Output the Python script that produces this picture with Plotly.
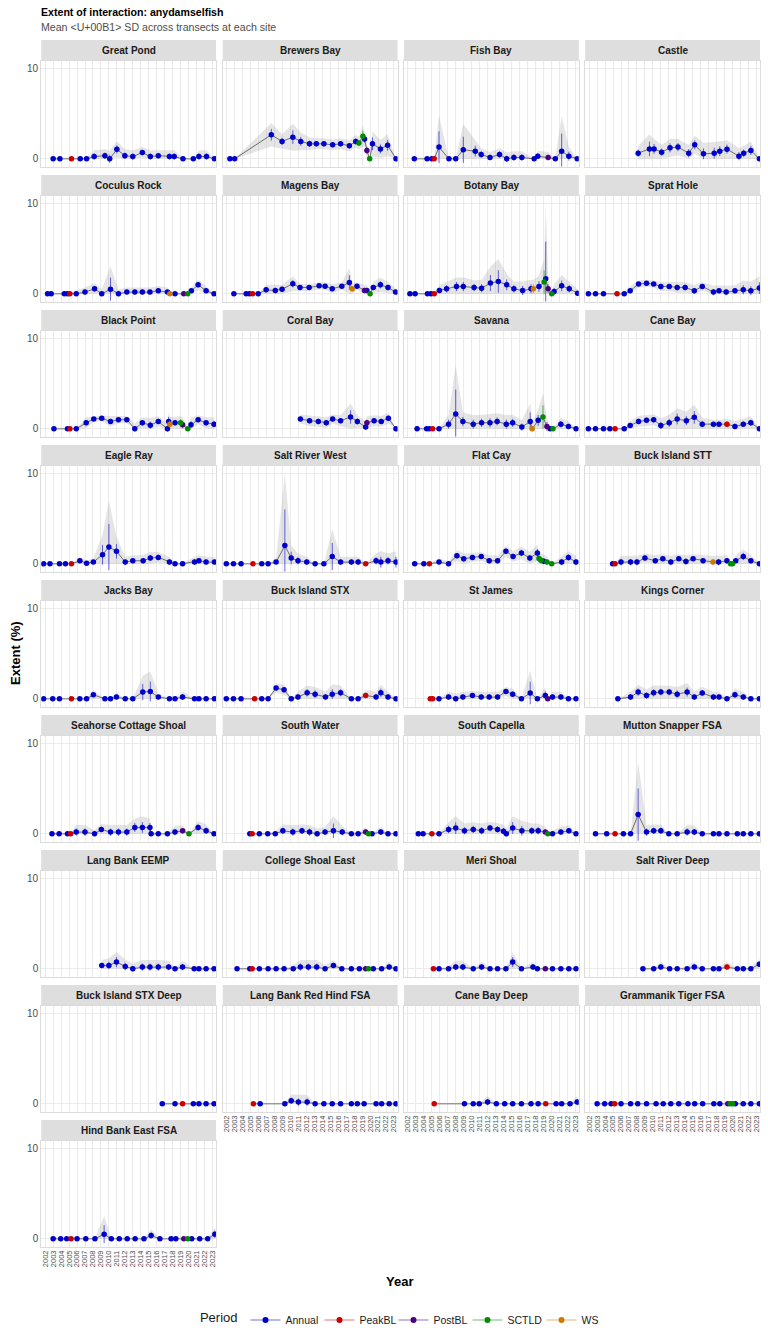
import plotly.graph_objects as go

# period codes: A=Annual, P=PeakBL, Q=PostBL, S=SCTLD, W=WS
# each site: survey date (decimal year), mean extent (%), SD across transects, period

gp_yr = [2003.0, 2003.85, 2005.3, 2006.4, 2007.2, 2008.15, 2009.5, 2010.1, 2011.0, 2012.0, 2013.0, 2014.2, 2015.2, 2016.2, 2017.6, 2018.2, 2019.3, 2020.6, 2021.3, 2022.25, 2023.25]
gp_mu = [0, 0, 0, 0, 0, 0.25, 0.35, 0, 1.05, 0.35, 0.25, 0.7, 0.25, 0.35, 0.25, 0.25, 0, 0, 0.25, 0.25, 0]
gp_sd = [0, 0, 0, 0, 0, 0.35, 0.35, 0.45, 0.45, 0.35, 0.35, 0.3, 0.35, 0.3, 0.35, 0.35, 0, 0, 0.35, 0.35, 0]
gp_pd = "AAPAAAAAAAAAAAAAAAAAA"

bb_yr = [2002.4, 2003.0, 2007.6, 2008.95, 2010.3, 2011.3, 2012.4, 2013.25, 2014.2, 2015.3, 2016.3, 2017.4, 2018.2, 2018.6, 2019.1, 2019.3, 2019.6, 2019.95, 2020.3, 2021.3, 2022.2, 2023.25]
bb_mu = [0, 0, 2.67, 1.93, 2.4, 1.93, 1.67, 1.67, 1.67, 1.55, 1.67, 1.45, 1.93, 1.75, 2.5, 2.2, 0.93, 0, 1.67, 1.1, 1.5, 0]
bb_sd = [0, 0, 0.65, 0.4, 0.75, 0.5, 0.35, 0.3, 0.3, 0.3, 0.3, 0.3, 0.35, 0.35, 0.6, 0.4, 0.4, 0, 0.7, 0.5, 0.6, 0]
bb_pd = "AAAAAAAAAAAAASSAQSAAAA"

fb_yr = [2002.8, 2004.4, 2005.0, 2005.3, 2005.9, 2007.15, 2008.0, 2008.95, 2010.45, 2011.2, 2012.3, 2013.5, 2014.4, 2015.3, 2016.3, 2017.85, 2018.3, 2019.6, 2020.5, 2021.3, 2022.2, 2023.25]
fb_mu = [0, 0, 0, 0, 1.3, 0, 0, 1.0, 0.85, 0.48, 0.15, 0.48, 0, 0.15, 0.15, 0, 0.3, 0.15, 0, 0.85, 0.3, 0]
fb_sd = [0, 0, 0, 0, 1.75, 0, 0, 1.45, 0.6, 0.35, 0.3, 0.35, 0.35, 0.35, 0.35, 0, 0.3, 0.3, 0, 1.95, 0.5, 0]
fb_pd = "AAAPAAAAAAAAAAAAAQAAAA"

ca_yr = [2008.15, 2009.57, 2010.15, 2011.1, 2012.15, 2013.15, 2014.5, 2015.25, 2016.35, 2017.7, 2018.4, 2019.3, 2020.8, 2021.4, 2022.3, 2023.37]
ca_mu = [0.63, 1.1, 1.1, 0.74, 1.22, 1.3, 0.63, 1.55, 0.55, 0.63, 0.85, 1.07, 0.3, 0.63, 0.93, 0]
ca_sd = [0.4, 0.8, 0.55, 0.4, 0.5, 0.45, 0.45, 0.5, 0.6, 0.6, 0.55, 0.5, 0.45, 0.4, 0.5, 0]
ca_pd = "AAAAAAAAAAAAAAAA"

cr_yr = [2002.3, 2002.75, 2004.4, 2004.8, 2005.1, 2005.9, 2007.0, 2008.2, 2009.1, 2010.2, 2011.2, 2012.25, 2013.25, 2014.2, 2015.15, 2016.2, 2017.35, 2017.65, 2018.3, 2019.4, 2019.9, 2020.35, 2021.2, 2022.2, 2023.2]
cr_mu = [0, 0, 0, 0, 0, 0, 0.19, 0.56, 0, 0.52, 0, 0.19, 0.19, 0.19, 0.19, 0.34, 0.19, 0, 0, 0, 0, 0.34, 1.0, 0.34, 0]
cr_sd = [0, 0, 0, 0, 0, 0.2, 0.25, 0.32, 0.25, 1.27, 0.26, 0.26, 0.26, 0.26, 0.26, 0.26, 0.26, 0, 0, 0, 0, 0.2, 0.3, 0.25, 0]
cr_pd = "AAAAPAAAAAAAAAAAAWAQSAAAA"

mb_yr = [2002.9, 2004.45, 2004.85, 2005.25, 2005.95, 2006.95, 2008.1, 2008.95, 2010.3, 2011.2, 2012.35, 2013.6, 2014.35, 2015.25, 2016.45, 2017.4, 2017.75, 2018.35, 2019.3, 2019.6, 2020.0, 2020.4, 2021.3, 2022.25, 2023.2]
mb_mu = [0, 0, 0, 0, 0, 0.44, 0.37, 0.52, 1.11, 0.7, 0.7, 0.89, 0.85, 0.56, 0.85, 1.26, 0.56, 0.85, 0.37, 0.37, 0, 0.7, 1.0, 0.7, 0.19]
mb_sd = [0, 0, 0, 0, 0, 0.28, 0.3, 0.25, 0.4, 0.2, 0.2, 0.2, 0.2, 0.25, 0.2, 0.8, 0.3, 0.2, 0.3, 0.3, 0, 0.3, 0.4, 0.3, 0.2]
mb_pd = "AAAPAAAAAAAAAAAAWAQASAAAA"

bt_yr = [2002.25, 2002.9, 2004.45, 2004.9, 2005.3, 2005.95, 2006.85, 2008.1, 2008.95, 2010.3, 2011.25, 2012.35, 2013.35, 2014.4, 2015.3, 2016.4, 2017.45, 2017.75, 2018.45, 2019.1, 2019.3, 2019.6, 2020.05, 2020.35, 2021.3, 2022.25, 2023.3]
bt_mu = [0, 0, 0, 0, 0, 0.37, 0.56, 0.81, 0.81, 0.7, 0.63, 1.19, 1.37, 1.0, 0.56, 0.37, 0.56, 0.56, 0.81, 1.3, 1.67, 0.56, 0, 0.26, 0.89, 0.56, 0.07]
bt_sd = [0, 0, 0, 0, 0, 0.3, 0.4, 0.5, 0.5, 0.4, 0.45, 0.9, 1.25, 0.6, 0.4, 0.5, 0.5, 0.5, 0.6, 1.3, 4.1, 0.5, 0, 0.4, 0.6, 0.4, 0.2]
bt_pd = "AAAAPAAAAAAAAAAAAWASAQSAAAA"

sh_yr = [2001.9, 2002.8, 2003.8, 2005.5, 2006.4, 2007.15, 2008.2, 2009.2, 2010.1, 2011.0, 2012.05, 2013.05, 2014.05, 2015.2, 2016.2, 2017.6, 2018.3, 2019.2, 2020.3, 2021.35, 2022.3, 2023.37]
sh_mu = [0, 0, 0, 0, 0, 0.34, 1.09, 1.16, 1.09, 0.82, 0.82, 0.71, 0.71, 0.34, 0.82, 0.19, 0.34, 0.19, 0.34, 0.45, 0.34, 0.64]
sh_sd = [0, 0, 0, 0, 0, 0.25, 0.2, 0.2, 0.2, 0.25, 0.25, 0.3, 0.3, 0.3, 0.25, 0.35, 0.3, 0.35, 0.3, 0.5, 0.5, 0.65]
sh_pd = "AAAPAAAAAAAAAAAAAAAAAA"

bp_yr = [2003.1, 2004.8, 2005.1, 2005.9, 2007.15, 2008.1, 2009.1, 2010.2, 2011.2, 2012.25, 2013.25, 2014.2, 2015.2, 2016.2, 2017.35, 2017.5, 2017.65, 2018.3, 2019.0, 2019.25, 2019.9, 2020.3, 2021.2, 2022.2, 2023.2]
bp_mu = [0, 0, 0, 0, 0.67, 1.09, 1.16, 0.82, 1.01, 1.01, 0, 0.67, 0.41, 0.82, 0, 0.82, 0.52, 0.67, 0.67, 0.45, 0, 0.45, 1.01, 0.67, 0.52]
bp_sd = [0, 0, 0, 0, 0.3, 0.15, 0.15, 0.3, 0.2, 0.2, 0.3, 0.3, 0.4, 0.3, 0.3, 0.5, 0.4, 0.3, 0.4, 0.4, 0, 0.4, 0.25, 0.3, 0.35]
bp_pd = "AAPAAAAAAAAAAAAAWASQSAAAA"

cb_yr = [2011.25, 2012.4, 2013.5, 2014.5, 2015.3, 2016.3, 2017.55, 2018.4, 2019.45, 2019.6, 2020.5, 2021.4, 2022.3, 2023.25]
cb_mu = [1.09, 0.9, 0.82, 0.67, 1.09, 0.9, 1.31, 0.82, 0.19, 0.67, 0.9, 0.82, 1.16, 0]
cb_sd = [0.25, 0.3, 0.3, 0.3, 0.25, 0.3, 0.75, 0.35, 0.3, 0.35, 0.3, 0.3, 0.3, 0]
cb_pd = "AAAAAAAAAQAAAA"

sv_yr = [2003.15, 2004.35, 2004.7, 2005.1, 2005.9, 2007.1, 2008.0, 2008.9, 2010.2, 2011.25, 2012.3, 2013.2, 2014.35, 2015.15, 2016.3, 2017.35, 2017.6, 2018.35, 2018.95, 2019.45, 2019.85, 2020.2, 2021.2, 2022.15, 2023.1]
sv_mu = [0, 0, 0, 0, 0, 0.52, 1.65, 0.82, 0.52, 0.67, 0.67, 0.82, 0.52, 0.67, 0.19, 0.82, 0, 0.94, 1.31, 0.26, 0, 0, 0.52, 0.26, 0]
sv_sd = [0, 0, 0, 0, 0, 0.5, 2.7, 0.5, 0.5, 0.45, 0.5, 0.45, 0.5, 0.45, 0.4, 1.0, 0.3, 0.6, 1.3, 0.5, 0, 0, 0.35, 0.3, 0]
sv_pd = "AAAPAAAAAAAAAAAAWASQASAAA"

cn_yr = [2001.9, 2002.8, 2003.8, 2004.6, 2005.25, 2006.4, 2007.15, 2008.2, 2009.2, 2010.1, 2011.0, 2012.05, 2013.05, 2014.2, 2015.2, 2016.2, 2017.6, 2018.3, 2019.3, 2020.3, 2021.35, 2022.3, 2023.37]
cn_mu = [0, 0, 0, 0, 0, 0, 0.37, 0.82, 0.94, 1.01, 0.37, 0.67, 1.09, 0.9, 1.27, 0.52, 0.52, 0.52, 0.52, 0.26, 0.52, 0.67, 0]
cn_sd = [0, 0, 0, 0, 0, 0, 0.25, 0.3, 0.3, 0.3, 0.4, 0.45, 0.6, 0.5, 0.7, 0.35, 0.25, 0.25, 0.3, 0.3, 0.3, 0.35, 0]
cn_pd = "AAAAPAAAAAAAAAAAAAPAAAA"

er_yr = [2001.8, 2002.6, 2003.8, 2004.55, 2005.3, 2006.35, 2007.2, 2008.05, 2009.2, 2010.0, 2010.95, 2012.05, 2013.0, 2014.3, 2015.2, 2016.2, 2017.6, 2018.3, 2019.25, 2020.75, 2021.3, 2022.2, 2023.25]
er_mu = [0, 0, 0, 0, 0, 0.34, 0.07, 0.19, 1.01, 1.87, 1.39, 0.19, 0.34, 0.34, 0.64, 0.71, 0.19, 0, 0, 0.19, 0.34, 0.19, 0.19]
er_sd = [0, 0, 0, 0, 0, 0.2, 0.15, 0.2, 1.1, 2.55, 0.8, 0.3, 0.3, 0.3, 0.35, 0.3, 0.3, 0, 0, 0.3, 0.3, 0.3, 0.3]
er_pd = "AAAAPAAAAAAAAAAAAAAAAAA"

sw_yr = [2001.95, 2002.85, 2003.8, 2005.3, 2006.4, 2007.2, 2008.2, 2009.3, 2010.1, 2010.95, 2012.05, 2013.1, 2014.2, 2015.25, 2016.3, 2017.65, 2018.5, 2019.45, 2020.75, 2021.35, 2022.25, 2023.25]
sw_mu = [0, 0, 0, 0, 0, 0, 0.19, 2.02, 0.64, 0.34, 0.19, 0, 0, 0.82, 0.19, 0.19, 0.19, 0, 0.34, 0.19, 0.34, 0.19]
sw_sd = [0, 0, 0, 0, 0, 0, 0.2, 4.0, 0.7, 0.4, 0.3, 0, 0, 1.5, 0.3, 0.3, 0.3, 0, 0.4, 0.6, 0.4, 0.6]
sw_pd = "AAAPAAAAAAAAAAAAAPAAAA"

fc_yr = [2002.85, 2004.0, 2004.7, 2005.9, 2007.1, 2008.15, 2009.0, 2010.1, 2011.2, 2012.2, 2013.25, 2014.3, 2015.2, 2016.25, 2017.3, 2018.25, 2018.45, 2018.7, 2019.05, 2019.45, 2020.05, 2021.3, 2022.15, 2023.1]
fc_mu = [0, 0, 0, 0.19, 0, 0.9, 0.56, 0.71, 0.82, 0.34, 0.34, 1.39, 0.82, 1.2, 0.64, 1.2, 0.6, 0.4, 0.3, 0.2, 0, 0.19, 0.71, 0.19]
fc_sd = [0, 0, 0, 0.2, 0.15, 0.3, 0.3, 0.25, 0.25, 0.3, 0.3, 0.3, 0.3, 0.35, 0.35, 0.45, 0.4, 0.4, 0.35, 0.3, 0, 0.35, 0.35, 0.35]
fc_pd = "AAPAAAAAAAAAAAAASSASSAAA"

bs_yr = [2004.95, 2005.25, 2006.0, 2007.2, 2008.0, 2009.0, 2010.3, 2011.25, 2012.25, 2013.25, 2014.15, 2015.05, 2016.3, 2017.55, 2018.25, 2019.3, 2019.75, 2020.0, 2020.4, 2021.35, 2022.3, 2023.37]
bs_mu = [0, 0, 0.19, 0.19, 0.19, 0.64, 0.34, 0.56, 0.19, 0.56, 0.26, 0.56, 0.34, 0.19, 0.19, 0.34, 0, 0, 0.34, 0.82, 0.34, 0]
bs_sd = [0, 0, 0.35, 0.35, 0.35, 0.25, 0.3, 0.25, 0.35, 0.25, 0.35, 0.25, 0.3, 0.35, 0.35, 0.3, 0, 0, 0.3, 0.4, 0.3, 0]
bs_pd = "APAAAAAAAAAAAWAASSAAAA"

jb_yr = [2001.8, 2002.95, 2003.8, 2005.3, 2006.35, 2007.2, 2008.05, 2009.5, 2010.2, 2010.95, 2012.05, 2013.0, 2014.25, 2015.2, 2016.2, 2017.6, 2018.3, 2019.25, 2020.75, 2021.3, 2022.2, 2023.25]
jb_mu = [0, 0, 0, 0, 0, 0, 0.45, 0, 0, 0.19, 0, 0, 0.75, 0.82, 0.19, 0, 0, 0.19, 0, 0, 0, 0]
jb_sd = [0, 0, 0, 0, 0, 0, 0.25, 0, 0, 0.25, 0, 0, 0.9, 1.1, 0.2, 0, 0, 0.3, 0, 0, 0, 0]
jb_pd = "AAAPAAAAAAAAAAAAAAAAAA"

bx_yr = [2001.95, 2002.85, 2003.8, 2005.5, 2006.4, 2007.2, 2008.2, 2009.2, 2010.1, 2010.95, 2012.1, 2013.1, 2014.4, 2015.25, 2016.3, 2017.65, 2018.5, 2019.45, 2020.75, 2021.35, 2022.25, 2023.25]
bx_mu = [0, 0, 0, 0, 0, 0, 1.2, 1.0, 0, 0.19, 0.67, 0.52, 0.19, 0.52, 0.67, 0, 0, 0.37, 0.19, 0.67, 0.19, 0]
bx_sd = [0, 0, 0, 0, 0, 0, 0.25, 0.3, 0, 0.3, 0.4, 0.4, 0.3, 0.55, 0.4, 0, 0, 0.3, 0.3, 0.45, 0.3, 0]
bx_pd = "AAAPAAAAAAAAAAAAAPAAAA"

sj_yr = [2004.8, 2005.1, 2005.9, 2007.1, 2008.0, 2008.9, 2010.1, 2011.2, 2012.2, 2013.25, 2014.3, 2015.15, 2016.25, 2017.35, 2018.25, 2019.25, 2019.55, 2020.15, 2021.2, 2022.15, 2023.1]
sj_mu = [0, 0, 0, 0.19, 0, 0.19, 0.37, 0.19, 0.19, 0.19, 0.82, 0.52, 0, 0.64, 0, 0.37, 0, 0.19, 0.19, 0, 0]
sj_sd = [0, 0, 0, 0.3, 0.3, 0.3, 0.25, 0.3, 0.3, 0.3, 0.25, 0.3, 0, 1.25, 0, 0.45, 0, 0.3, 0.3, 0, 0]
sj_pd = "PPAAAAAAAAAAAAAAQAAAA"

kc_yr = [2005.6, 2007.2, 2008.15, 2009.2, 2010.1, 2011.0, 2012.05, 2013.05, 2014.3, 2015.2, 2016.2, 2017.6, 2018.3, 2019.3, 2020.3, 2021.35, 2022.3, 2023.37]
kc_mu = [0, 0.19, 0.75, 0.37, 0.67, 0.75, 0.75, 0.52, 0.75, 0.19, 0.64, 0.19, 0.19, 0, 0.45, 0.19, 0, 0]
kc_sd = [0, 0.3, 0.4, 0.35, 0.4, 0.35, 0.35, 0.4, 0.5, 0.3, 0.35, 0.3, 0.3, 0, 0.35, 0.3, 0, 0]
kc_pd = "AAAAAAAAAAAAAAAAAA"

sc_yr = [2002.85, 2003.75, 2004.8, 2005.2, 2005.9, 2007.0, 2008.2, 2009.05, 2010.2, 2011.2, 2012.25, 2013.25, 2014.2, 2015.15, 2015.3, 2016.2, 2017.35, 2018.3, 2019.25, 2020.05, 2021.2, 2022.2, 2023.2]
sc_mu = [0, 0, 0, 0, 0.19, 0.19, 0, 0.49, 0.19, 0.19, 0.19, 0.71, 0.71, 0.71, 0, 0, 0, 0.19, 0.34, 0, 0.71, 0.34, 0]
sc_sd = [0, 0, 0, 0, 0.4, 0.4, 0.2, 0.3, 0.4, 0.4, 0.4, 0.5, 0.6, 0.5, 0, 0, 0, 0.35, 0.3, 0, 0.35, 0.35, 0]
sc_pd = "AAAPAAAAAAAAAAAAAAQSAAA"

wt_yr = [2004.9, 2005.2, 2006.1, 2007.15, 2008.1, 2009.05, 2010.3, 2011.45, 2012.4, 2013.35, 2014.35, 2015.4, 2016.5, 2017.65, 2018.5, 2019.45, 2019.8, 2020.25, 2021.35, 2022.25, 2023.25]
wt_mu = [0, 0, 0, 0, 0, 0.34, 0.19, 0.34, 0.19, 0, 0.19, 0.34, 0.19, 0, 0, 0.19, 0, 0, 0.19, 0, 0]
wt_sd = [0, 0, 0, 0, 0.15, 0.35, 0.4, 0.35, 0.4, 0.3, 0.3, 0.8, 0.35, 0, 0, 0.3, 0, 0, 0.3, 0, 0]
wt_pd = "APAAAAAAAAAAAAAQSAAAA"

sp_yr = [2003.3, 2003.9, 2005.0, 2005.9, 2007.1, 2008.0, 2009.1, 2010.2, 2011.25, 2012.3, 2013.25, 2014.0, 2014.35, 2015.15, 2016.3, 2017.55, 2018.35, 2019.25, 2019.55, 2020.15, 2021.2, 2022.2, 2023.1]
sp_mu = [0, 0, 0, 0, 0.49, 0.64, 0.34, 0.49, 0.34, 0.64, 0.49, 0.3, 0, 0.64, 0.34, 0.34, 0.34, 0.19, 0, 0, 0.19, 0.34, 0]
sp_sd = [0, 0, 0, 0, 0.4, 0.65, 0.4, 0.4, 0.4, 0.35, 0.35, 0.35, 0.3, 0.65, 0.55, 0.4, 0.4, 0.3, 0, 0.2, 0.3, 0.3, 0]
sp_pd = "AAPAAAAAAAAAAAAAAQSAAAA"

ms_yr = [2002.8, 2004.2, 2005.25, 2006.3, 2007.2, 2008.15, 2009.2, 2010.1, 2011.0, 2012.0, 2013.05, 2014.3, 2015.2, 2016.2, 2017.6, 2018.3, 2019.3, 2020.6, 2021.35, 2022.3, 2023.37]
ms_mu = [0, 0, 0, 0, 0, 2.13, 0.19, 0.34, 0.34, 0, 0, 0.19, 0.19, 0, 0, 0, 0, 0, 0, 0, 0]
ms_sd = [0, 0, 0, 0, 0, 2.9, 0.4, 0.35, 0.35, 0, 0, 0.4, 0.35, 0, 0, 0, 0, 0, 0, 0, 0]
ms_pd = "AAPAAAAAAAAAAAAAAAAAA"

le_yr = [2009.1, 2010.0, 2010.95, 2012.05, 2013.0, 2014.2, 2015.15, 2016.2, 2017.5, 2018.3, 2019.25, 2020.7, 2021.3, 2022.2, 2023.2]
le_mu = [0.37, 0.37, 0.75, 0.26, 0, 0.19, 0.19, 0.19, 0.19, 0, 0.19, 0, 0, 0, 0]
le_sd = [0.3, 0.4, 0.55, 0.4, 0.3, 0.4, 0.4, 0.4, 0.35, 0, 0.35, 0, 0, 0, 0]
le_pd = "AAAAAAAAAAAAAAA"

cs_yr = [2003.3, 2004.9, 2005.2, 2006.1, 2007.2, 2008.2, 2009.2, 2010.35, 2011.25, 2012.25, 2013.3, 2014.35, 2015.4, 2016.45, 2017.65, 2018.65, 2019.45, 2019.8, 2020.4, 2021.45, 2022.4, 2023.25]
cs_mu = [0, 0, 0, 0, 0, 0, 0, 0, 0.19, 0.19, 0.19, 0, 0.37, 0, 0, 0, 0, 0, 0, 0, 0.19, 0]
cs_sd = [0, 0, 0, 0, 0, 0, 0, 0.2, 0.4, 0.4, 0.4, 0.2, 0.3, 0, 0, 0, 0.2, 0, 0, 0, 0.3, 0]
cs_pd = "AAPAAAAAAAAAAAAAQSAAAA"

me_yr = [2005.2, 2005.9, 2007.1, 2008.0, 2008.9, 2010.2, 2011.25, 2012.3, 2013.25, 2014.3, 2015.15, 2016.25, 2017.7, 2018.25, 2019.25, 2020.15, 2021.2, 2022.2, 2023.1]
me_mu = [0, 0, 0, 0.19, 0.19, 0, 0.19, 0, 0, 0, 0.75, 0, 0.19, 0, 0, 0, 0, 0, 0]
me_sd = [0, 0, 0.15, 0.35, 0.35, 0, 0.3, 0, 0, 0, 0.55, 0, 0.3, 0, 0, 0, 0, 0, 0]
me_pd = "PAAAAAAAAAAAAAQAAAA"

rd_yr = [2008.75, 2010.1, 2011.0, 2012.1, 2013.05, 2014.3, 2015.2, 2016.2, 2017.6, 2018.3, 2019.3, 2020.6, 2021.35, 2022.3, 2023.37]
rd_mu = [0, 0, 0.19, 0, 0, 0, 0.19, 0, 0, 0, 0.19, 0, 0, 0, 0.52]
rd_sd = [0, 0, 0.3, 0, 0, 0.15, 0.3, 0, 0, 0.1, 0.3, 0, 0, 0.1, 0.3]
rd_pd = "AAAAAAAAAAPAAAA"

bd_yr = [2016.7, 2018.3, 2019.25, 2020.6, 2021.3, 2022.2, 2023.2]
bd_mu = [0, 0, 0, 0, 0, 0, 0]
bd_sd = [0, 0, 0, 0, 0, 0, 0]
bd_pd = "AAPAAAA"

lr_yr = [2005.35, 2006.2, 2009.3, 2010.1, 2011.0, 2012.1, 2013.1, 2014.2, 2015.25, 2016.3, 2017.65, 2018.4, 2019.25, 2020.75, 2021.45, 2022.4, 2023.25]
lr_mu = [0, 0, 0, 0.34, 0.19, 0.19, 0, 0, 0, 0, 0, 0, 0, 0, 0, 0, 0]
lr_sd = [0, 0, 0, 0.35, 0.4, 0.4, 0, 0, 0, 0, 0, 0, 0, 0, 0, 0, 0]
lr_pd = "PAAAAAAAAAAAAAAAA"

cd_yr = [2005.3, 2009.1, 2010.2, 2010.95, 2012.0, 2013.1, 2014.15, 2015.15, 2016.25, 2017.45, 2018.35, 2019.3, 2020.6, 2021.3, 2022.35, 2023.25]
cd_mu = [0, 0, 0, 0, 0.19, 0, 0, 0, 0, 0, 0, 0, 0, 0, 0, 0.19]
cd_sd = [0, 0, 0, 0, 0.35, 0, 0, 0, 0, 0, 0, 0, 0, 0, 0, 0.35]
cd_pd = "PAAAAAAAAAAPAAAA"

gt_yr = [2003.0, 2003.95, 2004.75, 2005.2, 2006.0, 2007.2, 2008.1, 2009.2, 2010.4, 2011.3, 2012.25, 2013.25, 2014.4, 2015.25, 2016.25, 2017.65, 2018.4, 2019.4, 2019.7, 2020.0, 2020.35, 2021.35, 2022.3, 2023.37]
gt_mu = [0] * 24
gt_sd = [0] * 24
gt_pd = "AAAPAAAAAAAAAAAAAQSSAAAA"

hb_yr = [2003.0, 2003.95, 2004.7, 2005.25, 2006.0, 2007.1, 2008.25, 2009.4, 2010.3, 2011.3, 2012.3, 2013.3, 2014.4, 2015.3, 2016.4, 2017.8, 2018.4, 2019.4, 2019.9, 2020.4, 2021.4, 2022.4, 2023.3]
hb_mu = [0, 0, 0, 0, 0, 0, 0, 0.52, 0, 0, 0, 0, 0, 0.37, 0, 0, 0, 0, 0, 0, 0, 0, 0.52]
hb_sd = [0, 0, 0, 0, 0, 0, 0, 1.0, 0, 0, 0, 0, 0, 0.35, 0, 0, 0, 0, 0, 0, 0, 0, 0.4]
hb_pd = "AAAPAAAAAAAAAAAAAQSAAAA"

SITES = [
    ("Great Pond", gp_yr, gp_mu, gp_sd, gp_pd),
    ("Brewers Bay", bb_yr, bb_mu, bb_sd, bb_pd),
    ("Fish Bay", fb_yr, fb_mu, fb_sd, fb_pd),
    ("Castle", ca_yr, ca_mu, ca_sd, ca_pd),
    ("Coculus Rock", cr_yr, cr_mu, cr_sd, cr_pd),
    ("Magens Bay", mb_yr, mb_mu, mb_sd, mb_pd),
    ("Botany Bay", bt_yr, bt_mu, bt_sd, bt_pd),
    ("Sprat Hole", sh_yr, sh_mu, sh_sd, sh_pd),
    ("Black Point", bp_yr, bp_mu, bp_sd, bp_pd),
    ("Coral Bay", cb_yr, cb_mu, cb_sd, cb_pd),
    ("Savana", sv_yr, sv_mu, sv_sd, sv_pd),
    ("Cane Bay", cn_yr, cn_mu, cn_sd, cn_pd),
    ("Eagle Ray", er_yr, er_mu, er_sd, er_pd),
    ("Salt River West", sw_yr, sw_mu, sw_sd, sw_pd),
    ("Flat Cay", fc_yr, fc_mu, fc_sd, fc_pd),
    ("Buck Island STT", bs_yr, bs_mu, bs_sd, bs_pd),
    ("Jacks Bay", jb_yr, jb_mu, jb_sd, jb_pd),
    ("Buck Island STX", bx_yr, bx_mu, bx_sd, bx_pd),
    ("St James", sj_yr, sj_mu, sj_sd, sj_pd),
    ("Kings Corner", kc_yr, kc_mu, kc_sd, kc_pd),
    ("Seahorse Cottage Shoal", sc_yr, sc_mu, sc_sd, sc_pd),
    ("South Water", wt_yr, wt_mu, wt_sd, wt_pd),
    ("South Capella", sp_yr, sp_mu, sp_sd, sp_pd),
    ("Mutton Snapper FSA", ms_yr, ms_mu, ms_sd, ms_pd),
    ("Lang Bank EEMP", le_yr, le_mu, le_sd, le_pd),
    ("College Shoal East", cs_yr, cs_mu, cs_sd, cs_pd),
    ("Meri Shoal", me_yr, me_mu, me_sd, me_pd),
    ("Salt River Deep", rd_yr, rd_mu, rd_sd, rd_pd),
    ("Buck Island STX Deep", bd_yr, bd_mu, bd_sd, bd_pd),
    ("Lang Bank Red Hind FSA", lr_yr, lr_mu, lr_sd, lr_pd),
    ("Cane Bay Deep", cd_yr, cd_mu, cd_sd, cd_pd),
    ("Grammanik Tiger FSA", gt_yr, gt_mu, gt_sd, gt_pd),
    ("Hind Bank East FSA", hb_yr, hb_mu, hb_sd, hb_pd),
]

PERIODS = {"A": "Annual", "P": "PeakBL", "Q": "PostBL", "S": "SCTLD", "W": "WS"}
COLORS = {"Annual": (0, 0, 205), "PeakBL": (205, 0, 0), "PostBL": (75, 0, 130),
          "SCTLD": (0, 139, 0), "WS": (204, 122, 0)}
YEARS = list(range(2002, 2024))


def rgba(rgb, a):
    return "rgba(%d,%d,%d,%s)" % (rgb[0], rgb[1], rgb[2], a)


# page geometry (pixels)
W, H = 768, 1344
COL_X = [40.3, 222.3, 404.0, 585.7]
PANEL_W = 175.3
STRIP_TOP = 40.0
STRIP_H = 20.5
PANEL_H = 106.0
ROW_STEP = 135.0
FONT = "Liberation Sans, Arial, Helvetica, sans-serif"

fig = go.Figure()
shapes, annots = [], []

for i, (name, yr, mu, sd, pd_) in enumerate(SITES):
    r, c = divmod(i, 4)
    k = i + 1
    xa = "x" if k == 1 else "x%d" % k
    ya = "y" if k == 1 else "y%d" % k

    # grey band: mean +/- 2 SD, floored at zero
    lo = [max(0, m - 2 * s) for m, s in zip(mu, sd)]
    hi = [m + 2 * s for m, s in zip(mu, sd)]
    fig.add_trace(go.Scatter(
        x=yr + yr[::-1], y=hi + lo[::-1], mode="lines", fill="toself",
        fillcolor="rgba(150,150,150,0.25)", line=dict(width=0),
        xaxis=xa, yaxis=ya, showlegend=False, hoverinfo="skip"))
    fig.add_trace(go.Scatter(
        x=yr, y=mu, mode="lines", line=dict(color="rgba(50,50,50,0.75)", width=0.9),
        xaxis=xa, yaxis=ya, showlegend=False, hoverinfo="skip"))
    for code, label in PERIODS.items():
        idx = [j for j, p in enumerate(pd_) if p == code]
        if not idx:
            continue
        fig.add_trace(go.Scatter(
            x=[yr[j] for j in idx], y=[mu[j] for j in idx], mode="markers",
            marker=dict(color=rgba(COLORS[label], 1), size=5.5),
            error_y=dict(type="data", array=[sd[j] for j in idx], visible=True,
                         color=rgba(COLORS[label], 0.6), thickness=1, width=0),
            xaxis=xa, yaxis=ya, showlegend=False, name=label))

    left = COL_X[c]
    top = STRIP_TOP + r * ROW_STEP + STRIP_H
    bottom = top + PANEL_H
    last_in_col = i + 4 >= len(SITES)
    fig.layout["xaxis" + ("" if k == 1 else str(k))] = dict(
        domain=[left / W, (left + PANEL_W) / W], anchor=ya,
        range=[2001.5, 2023.45], tickvals=YEARS, ticktext=[str(y) for y in YEARS],
        tickangle=-90, showticklabels=last_in_col, ticks="",
        tickfont=dict(size=7.5, color="#4D4D4D", family=FONT),
        showgrid=True, gridcolor="#EBEBEB", gridwidth=1.3, zeroline=False,
        showline=True, mirror=True, linecolor="#DCDCDC", linewidth=1)
    fig.layout["yaxis" + ("" if k == 1 else str(k))] = dict(
        domain=[1 - bottom / H, 1 - top / H], anchor=xa,
        range=[-0.85, 10.9], tickvals=[0, 10], showticklabels=(c == 0), ticks="",
        tickfont=dict(size=10, color="#4D4D4D", family=FONT),
        showgrid=True, gridcolor="#EBEBEB", gridwidth=1.3, zeroline=False,
        showline=True, mirror=True, linecolor="#DCDCDC", linewidth=1)

    shapes.append(dict(type="rect", xref="paper", yref="paper",
                       x0=left / W, x1=(left + PANEL_W) / W,
                       y0=1 - top / H, y1=1 - (top - STRIP_H) / H,
                       fillcolor="#DEDEDE", line=dict(width=0), layer="below"))
    annots.append(dict(text="<b>%s</b>" % name, xref="paper", yref="paper",
                       x=(left + PANEL_W / 2) / W, y=1 - (top - STRIP_H / 2) / H,
                       xanchor="center", yanchor="middle", showarrow=False,
                       font=dict(size=10, color="#1A1A1A", family=FONT)))

# legend entries
for label in PERIODS.values():
    fig.add_trace(go.Scatter(
        x=[None], y=[None], mode="lines+markers", name=label,
        line=dict(color=rgba(COLORS[label], 0.55), width=1),
        marker=dict(color=rgba(COLORS[label], 1), size=6), showlegend=True))

annots += [
    dict(text="<b>Extent of interaction: anydamselfish</b>", xref="paper", yref="paper",
         x=38 / W, y=1 - 11.5 / H, xanchor="left", yanchor="middle", showarrow=False,
         font=dict(size=10.6, color="#000000", family=FONT)),
    dict(text="Mean <U+00B1> SD across transects at each site", xref="paper", yref="paper",
         x=38 / W, y=1 - 27 / H, xanchor="left", yanchor="middle", showarrow=False,
         font=dict(size=10.6, color="#4D4D4D", family=FONT)),
    dict(text="<b>Year</b>", xref="paper", yref="paper", x=400 / W, y=1 - 1281 / H,
         xanchor="center", yanchor="middle", showarrow=False,
         font=dict(size=13, color="#000000", family=FONT)),
    dict(text="<b>Extent (%)</b>", xref="paper", yref="paper", x=14 / W, y=1 - 653 / H,
         xanchor="center", yanchor="middle", showarrow=False, textangle=-90,
         font=dict(size=13, color="#000000", family=FONT)),
]

fig.update_layout(
    width=W, height=H, margin=dict(l=0, r=0, t=0, b=0),
    paper_bgcolor="white", plot_bgcolor="white",
    font=dict(family=FONT, color="#1A1A1A"),
    shapes=shapes, annotations=annots, hovermode=False,
    legend=dict(orientation="h", x=407 / W, xanchor="center", y=1 - 1320 / H,
                yanchor="middle", itemwidth=30, entrywidth=29, entrywidthmode="pixels",
                font=dict(size=10.5, color="#1A1A1A"),
                title=dict(text="Period", side="left", font=dict(size=13))),
)

# drop the browser's default 8px body margin so the page maps 1:1 onto the figure
fig.write_html("out.html", config={"displayModeBar": False},
               post_script="document.body.style.margin='0px';")
